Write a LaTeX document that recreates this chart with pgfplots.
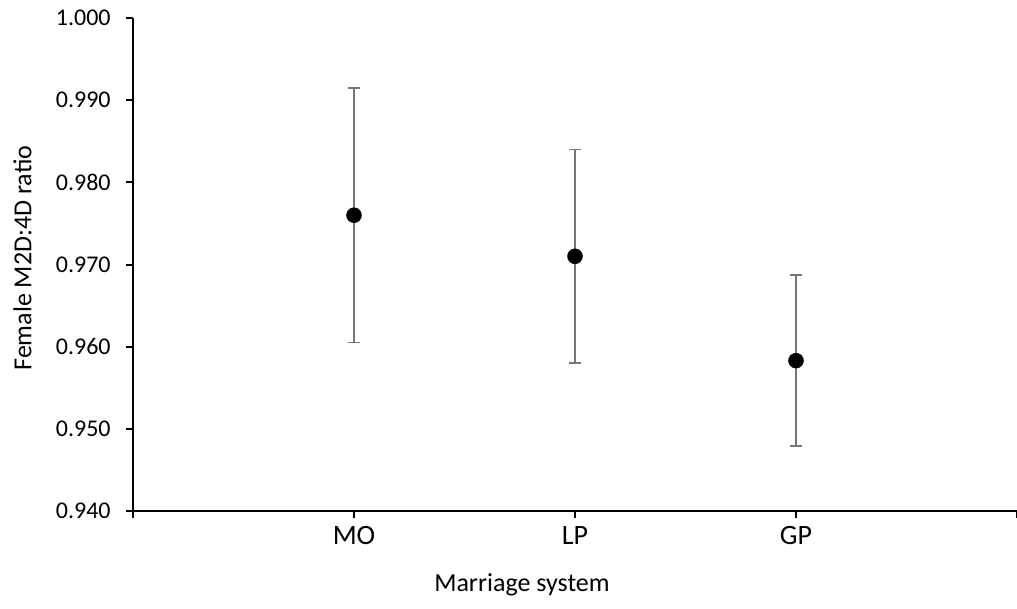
\documentclass[border=0pt]{standalone}
\usepackage{pgfplots}
\pgfplotsset{compat=1.18}
\usepackage{fontspec}
\setmainfont{Carlito}
\definecolor{errgray}{RGB}{118,118,118}
\begin{document}
\begin{tikzpicture}
\path[use as bounding box] (-99.75pt,-72.75pt) rectangle (663pt,383.25pt);
\begin{axis}[
  scale only axis,
  width=663pt, height=369.75pt,
  xmin=0, xmax=4, ymin=0.94, ymax=1.0,
  axis lines=left,
  axis line style={line width=1.5pt, -},
  xtick={0,1,2,3,4}, xticklabels={,MO,LP,GP,},
  ytick={0.94,0.95,0.96,0.97,0.98,0.99,1.0},
  tick align=outside, major tick length=5.25pt,
  tick style={line width=1.5pt, black},
  /pgf/number format/assume math mode=true,
  yticklabel style={/pgf/number format/.cd, fixed, fixed zerofill, precision=3, /tikz/.cd, font=\fontsize{18}{21}\selectfont, xshift=-8pt},
  xticklabel style={font=\fontsize{21}{25}\selectfont, yshift=-3pt},
  scaled y ticks=false,
  xlabel={Marriage system},
  ylabel={Female M2D:4D ratio},
  xlabel style={at={(axis description cs:0.44,0)}, anchor=center, yshift=-55.5pt, font=\fontsize{19.5}{23}\selectfont},
  ylabel style={at={(axis description cs:0,0.513)}, anchor=center, yshift=83pt, font=\fontsize{19.5}{23}\selectfont},
  clip=false,
]
\addplot[only marks, mark=*, mark size=5.6pt, mark options={black, fill=black},
  error bars/.cd, y dir=both, y explicit,
  error bar style={line width=1.2pt, errgray},
  error mark options={rotate=90, mark size=4.5pt, line width=1.2pt, errgray}]
  table[x=x, y=y, y error=e] {
x y e
1 0.9760 0.0155
2 0.9710 0.0130
3 0.9583 0.0104
};
\end{axis}
\end{tikzpicture}
\end{document}
